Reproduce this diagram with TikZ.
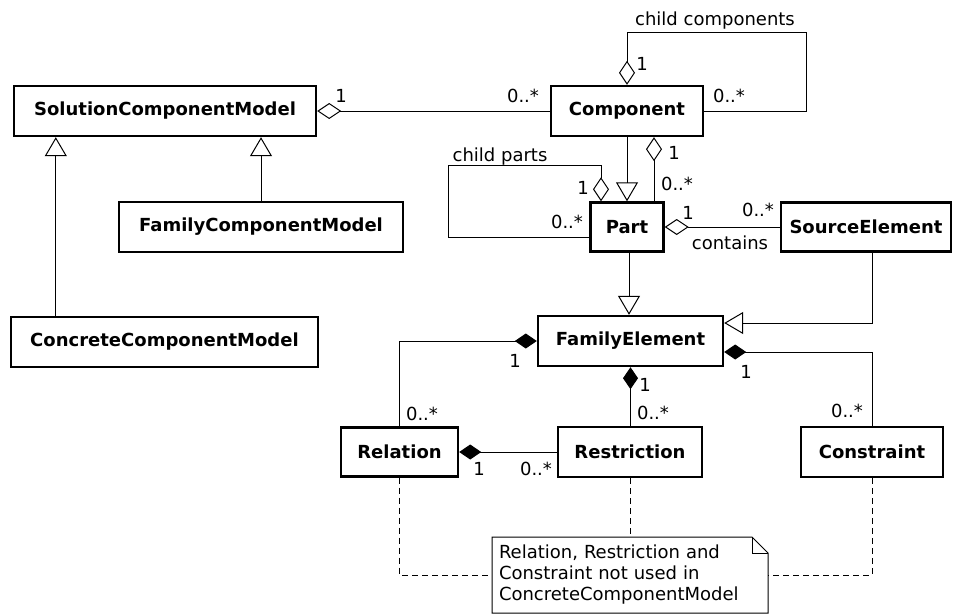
\documentclass[tikz,border=0pt]{standalone}
\usepackage{fontspec}
\setmainfont{DejaVu Sans}
\usetikzlibrary{arrows.meta}

\begin{document}
\begin{tikzpicture}[x=1pt,y=-1pt,
    cls/.style={draw, line width=2.4pt, inner sep=0pt, minimum height=50pt,
      font=\fontsize{18}{20}\selectfont\bfseries},
    lbl/.style={inner sep=0pt, text depth=0pt, font=\fontsize{18}{20}\selectfont},
    aggr/.style={line width=1pt, {Diamond[open, length=24pt, width=16pt]}-},
    compo/.style={line width=1pt, {Diamond[length=22pt, width=15pt]}-},
    gen/.style={line width=1pt, -{Triangle[open, length=19pt, width=22pt]}},
    notelink/.style={line width=1pt, dash pattern=on 6pt off 4pt}]
            \useasboundingbox (0,0) rectangle (955,614);

            % Model nodes
            \node[cls, minimum width=302pt] (scm) at (165,111) {SolutionComponentModel};
            \node[cls, minimum width=284pt] (fcm) at (261,227) {FamilyComponentModel};
            \node[cls, minimum width=307pt] (ccm) at (164.5,342) {ConcreteComponentModel};

            % Component nodes
            \node[cls, minimum width=152pt] (comp) at (627,111) {Component};
            \node[cls, minimum width=73pt, minimum height=49pt] (part) at (627,227) {Part};
            \node[cls, minimum width=170pt, minimum height=49pt] (src) at (866,227) {SourceElement};

            % Element nodes
            \node[cls, minimum width=185pt] (fe) at (630.5,341) {FamilyElement};
            \node[cls, minimum width=117pt, minimum height=49pt] (rel) at (399.5,452) {Relation};
            \node[cls, minimum width=144pt] (res) at (630,452) {Restriction};
            \node[cls, minimum width=142pt] (con) at (872,452) {Constraint};

            % Note
            \node[anchor=north west, inner xsep=7pt, inner ysep=0pt, outer sep=0pt,
              minimum width=276pt, minimum height=76pt, text width=262pt, align=left,
              font=\fontsize{18}{21}\selectfont] (note) at (492,537)
              {Relation, Restriction and\\Constraint not used in\\ConcreteComponentModel};
            \draw[line width=1pt] (note.south west) -- (note.north west) -- ([xshift=-16pt]note.north east)
              -- ([yshift=-16pt]note.north east) -- (note.south east) -- cycle;
            \draw[line width=1pt] ([xshift=-16pt]note.north east) |- ([yshift=-16pt]note.north east);

            % Generalisations
            \draw[gen] (fcm.north) -- (fcm.north |- scm.south);
            \draw[gen] ([xshift=46pt]ccm.north west) -- ([xshift=46pt]ccm.north west |- scm.south);
            \draw[gen] (comp.south) -- (part.north);
            \draw[gen] ([xshift=2pt]part.south) -- ([xshift=2pt]part.south |- fe.north);
            \draw[gen] ([xshift=6pt]src.south) |- ([yshift=18pt]fe.east);

            % Aggregations
            \draw[aggr] (scm.east) -- (comp.west);
            \node[lbl] (m1) at (341,96) {1};
            \node[lbl] (m2) at (523,96) {0..*};

            \draw[aggr] (comp.north) -- ++(0,-52) -| ([xshift=102pt]comp.east) -- (comp.east);
            \node[lbl] (lcc) at (715,19) {child components};
            \node[lbl] (m3) at (642,64) {1};
            \node[lbl] (m4) at (729,96) {0..*};

            \draw[aggr] ([xshift=27pt]comp.south) -- ([xshift=27pt]comp.south |- part.north);
            \node[lbl] (m5) at (674,153) {1};
            \node[lbl] (m6) at (677,184) {0..*};

            \draw[aggr] ([xshift=-26pt]part.north) -- ++(0,-36) -| ([xshift=-141pt,yshift=-10pt]part.west)
              -- ([yshift=-10pt]part.west);
            \node[lbl] (lcp) at (500,155) {child parts};
            \node[lbl] (m7) at (583,188) {1};
            \node[lbl] (m8) at (567,222) {0..*};

            \draw[aggr] (part.east) -- (src.west);
            \node[lbl] (m9) at (688,213) {1};
            \node[lbl] (m10) at (758,210) {0..*};
            \node[lbl] (lct) at (730,243) {contains};

            % Compositions
            \draw[compo] (fe.west) -| (rel.north);
            \node[lbl] (m11) at (515,361) {1};
            \node[lbl] (m12) at (422,414) {0..*};

            \draw[compo] (fe.south) -- (fe.south |- res.north);
            \node[lbl] (m13) at (645,385) {1};
            \node[lbl] (m14) at (653,413) {0..*};

            \draw[compo] ([yshift=-11pt]fe.east) -| (con.north);
            \node[lbl] (m15) at (746,372) {1};
            \node[lbl] (m16) at (847,411) {0..*};

            \draw[compo] (rel.east) -- (res.west);
            \node[lbl] (m17) at (479,469) {1};
            \node[lbl] (m18) at (536,469) {0..*};

            % Note links
            \draw[notelink] (rel.south) |- (note.west);
            \draw[notelink] (res.south) -- (res.south |- note.north);
            \draw[notelink] (con.south) |- (note.east);
        \end{tikzpicture}
\end{document}
